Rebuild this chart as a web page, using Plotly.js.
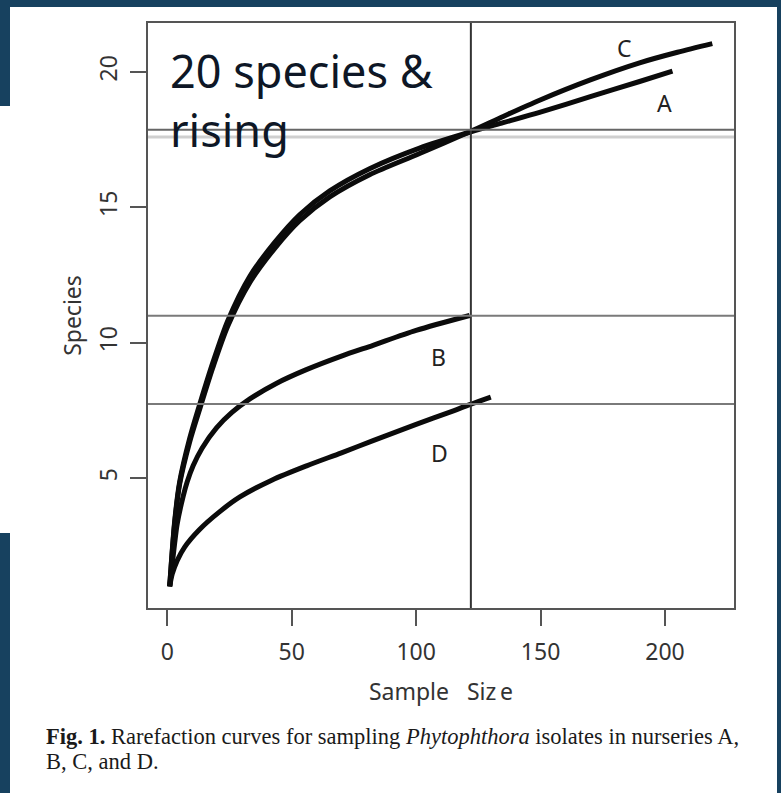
<!DOCTYPE html>
<html>
<head>
<meta charset="utf-8">
<script src="https://cdn.plot.ly/plotly-3.0.1.min.js"></script>
<style>
  html, body { margin: 0; padding: 0; background: #17415f; }
  #chart { width: 781px; height: 793px; }
</style>
</head>
<body>
<div id="chart"></div>
<script>
// ---- data ----
const xC = [1, 3, 5, 9, 13.5, 18.3, 24.3, 33.2, 43.2, 53.2, 65.3, 81.3, 101.4, 122, 135, 149.6, 170, 189.8, 205, 219];
const yC = [1, 3.33, 4.78, 6.33, 7.68, 9.07, 10.6, 12.22, 13.48, 14.5, 15.38, 16.2, 16.98, 17.8, 18.35, 18.95, 19.7, 20.33, 20.72, 21.04];

const xA = [1, 3, 5, 9, 13.5, 18.3, 24.3, 33.2, 43.2, 53.2, 65.3, 81.3, 101.4, 122, 135, 149.6, 170, 189.8, 203];
const yA = [1, 3.4, 4.85, 6.45, 7.85, 9.25, 10.8, 12.45, 13.7, 14.72, 15.6, 16.42, 17.18, 17.78, 18.12, 18.5, 19.08, 19.64, 20.02];

const xB = [1, 2, 3, 4, 6.4, 8, 10.4, 14, 19.8, 26, 33.2, 44, 55.9, 70, 82.7, 100, 121.5];
const yB = [1, 1.8, 2.6, 3.3, 4.32, 4.85, 5.45, 6.1, 6.85, 7.42, 7.92, 8.5, 9.0, 9.5, 9.9, 10.45, 11.0];

const xD = [1, 2, 4, 7, 13, 21, 29.2, 42, 56, 70, 82.7, 100, 115, 121.5, 130];
const yD = [1, 1.45, 1.95, 2.45, 3.1, 3.75, 4.3, 4.92, 5.45, 5.93, 6.38, 6.98, 7.48, 7.71, 7.99];

const refX = 122;                           // vertical reference line
const refY = [17.86, 17.59, 10.99, 7.73];   // horizontal reference lines
const refYColor = ['#666666', '#cfcfcf', '#7a7a7a', '#7a7a7a'];
const refYWidth = [2, 3, 2, 2];

const curveLabels = ['C', 'A', 'B', 'D'];
const labelX = [183.6, 199.8, 109.1, 109.5];
const labelY = [20.87, 18.85, 9.47, 5.92];

const xTicks = [0, 50, 100, 150, 200];
const yTicks = [5, 10, 15, 20];

const captionLines = [
  '<b>Fig. 1.</b> Rarefaction curves for sampling <i>Phytophthora</i> isolates in nurseries A,',
  'B, C, and D.'
];

// ---- page geometry helpers (pixel -> paper) ----
const M = {l: 148, r: 47, t: 23, b: 185};
const W = 781, H = 793;
const PW = W - M.l - M.r, PH = H - M.t - M.b;
const px = x => (x - M.l) / PW;
const py = y => (H - M.b - y) / PH;

const curveStyle = {color: '#0b0b0b', width: 5, shape: 'spline', smoothing: 0.8};
const traces = [
  {x: xC, y: yC, mode: 'lines', line: curveStyle, name: 'C', hoverinfo: 'skip'},
  {x: xA, y: yA, mode: 'lines', line: curveStyle, name: 'A', hoverinfo: 'skip'},
  {x: xB, y: yB, mode: 'lines', line: curveStyle, name: 'B', hoverinfo: 'skip'},
  {x: xD, y: yD, mode: 'lines', line: curveStyle, name: 'D', hoverinfo: 'skip'}
];

const shapes = [
  // white slide panel
  {type: 'rect', xref: 'paper', yref: 'paper', layer: 'below',
   x0: px(10), x1: px(777), y0: py(H + 5), y1: py(7),
   fillcolor: '#ffffff', line: {width: 0}},
  {type: 'rect', xref: 'paper', yref: 'paper', layer: 'below',
   x0: px(-5), x1: px(12), y0: py(533), y1: py(106),
   fillcolor: '#ffffff', line: {width: 0}},
  // vertical reference line
  {type: 'line', xref: 'x', yref: 'paper', x0: refX, x1: refX, y0: 0, y1: 1,
   line: {color: '#333333', width: 2}}
];
refY.forEach((v, i) => shapes.push({
  type: 'line', xref: 'paper', yref: 'y', x0: 0, x1: 1, y0: v, y1: v,
  line: {color: refYColor[i], width: refYWidth[i]}, layer: i === 1 ? 'below' : 'above'
}));

const annotations = curveLabels.map((t, i) => ({
  x: labelX[i], y: labelY[i], xref: 'x', yref: 'y', text: t, showarrow: false,
  font: {family: 'Noto Sans, sans-serif', size: 23, color: '#222222'}
}));
annotations.push({
  xref: 'paper', yref: 'paper', x: px(168), y: py(100), xanchor: 'left', yanchor: 'middle',
  align: 'left', showarrow: false, text: '20 species &amp;<br>rising',
  font: {family: 'Noto Sans, sans-serif', size: 45, color: '#0e1726'}
});
const captionY = [736, 761];
captionLines.forEach((t, i) => annotations.push({
  xref: 'paper', yref: 'paper', x: px(44), y: py(captionY[i]), xanchor: 'left', yanchor: 'middle',
  align: 'left', showarrow: false, text: t,
  font: {family: 'Liberation Serif, Times New Roman, serif', size: 22.5, color: '#1a1a1a'}
}));

const axisCommon = {
  showgrid: false, zeroline: false, showline: true, mirror: true,
  linecolor: '#555555', linewidth: 2,
  ticks: 'outside', ticklen: 16, tickwidth: 2, tickcolor: '#555555',
  tickfont: {family: 'Noto Sans, sans-serif', size: 23, color: '#333333'},
  automargin: false, fixedrange: true
};

const layout = {
  width: W, height: H,
  margin: M,
  paper_bgcolor: '#17415f',
  plot_bgcolor: 'rgba(0,0,0,0)',
  showlegend: false,
  xaxis: Object.assign({}, axisCommon, {
    range: [-7.72, 227.72], tickvals: xTicks, ticktext: xTicks.map(String),
    ticklabelstandoff: 6,
    title: {text: 'Sample\u00A0\u00A0\u00A0Siz\u2009e', standoff: 18,
            font: {family: 'Noto Sans, sans-serif', size: 23, color: '#333333'}}
  }),
  yaxis: Object.assign({}, axisCommon, {
    range: [0.2, 21.8], tickvals: yTicks, ticktext: yTicks.map(String),
    tickangle: -90, ticklabelstandoff: 4,
    title: {text: 'Species', standoff: 4,
            font: {family: 'Noto Sans, sans-serif', size: 23, color: '#333333'}}
  }),
  shapes: shapes,
  annotations: annotations
};

Plotly.newPlot('chart', traces, layout, {displayModeBar: false, staticPlot: true});
</script>
</body>
</html>
